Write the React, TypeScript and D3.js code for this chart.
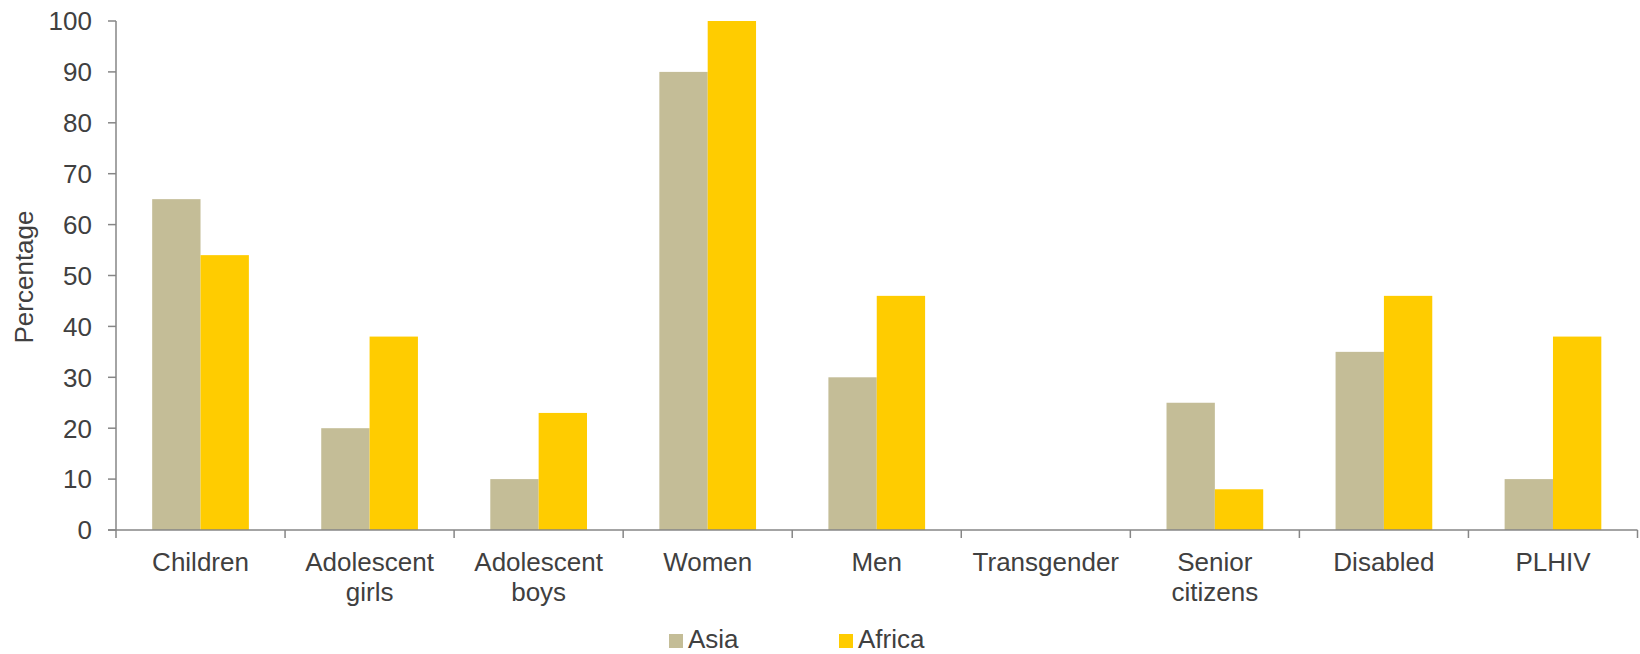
import React from "react";
import * as d3 from "d3";

const categories: string[][] = [
  ["Children"],
  ["Adolescent", "girls"],
  ["Adolescent", "boys"],
  ["Women"],
  ["Men"],
  ["Transgender"],
  ["Senior", "citizens"],
  ["Disabled"],
  ["PLHIV"],
];
const seriesNames = ["Asia", "Africa"];
const asiaValues = [65, 20, 10, 90, 30, 0, 25, 35, 10];
const africaValues = [54, 38, 23, 100, 46, 0, 8, 46, 38];
const yTicks = [0, 10, 20, 30, 40, 50, 60, 70, 80, 90, 100];
const colors = ["#C4BD97", "#FFCC00"];

const W = 1640;
const H = 654;
const left = 116;
const right = 1637.5;
const top = 21;
const bottom = 530;
const FONT = "'Liberation Sans', Arial, sans-serif";
const TEXT = "#404040";
const AXIS = "#868686";

export default function App() {
  const keys = categories.map((c) => c.join(" "));
  const x = d3.scaleBand<string>().domain(keys).range([left, right]).paddingInner(0).paddingOuter(0);
  const y = d3.scaleLinear().domain([0, 100]).range([bottom, top]);
  const groupFrac = 0.572;
  const gw = x.bandwidth() * groupFrac;
  const inner = d3.scaleBand<string>().domain(seriesNames).range([0, gw]).padding(0);
  const series = [asiaValues, africaValues];

  return (
    <svg
      width={W}
      height={H}
      style={{ position: "absolute", left: 0, top: 0, background: "#fff" }}
      fontFamily={FONT}
    >
      <rect x={0} y={0} width={W} height={H} fill="#fff" />
      {/* bars */}
      {keys.map((k, i) => {
        const gx = (x(k) as number) + (x.bandwidth() - gw) / 2;
        return (
          <g key={k}>
            {series.map((vals, s) => (
              <rect
                key={s}
                x={gx + (inner(seriesNames[s]) as number)}
                y={y(vals[i])}
                width={inner.bandwidth()}
                height={bottom - y(vals[i])}
                fill={colors[s]}
              />
            ))}
          </g>
        );
      })}
      {/* y axis */}
      <line x1={left} x2={left} y1={top} y2={bottom} stroke={AXIS} strokeWidth={1.5} />
      {yTicks.map((t) => (
        <g key={t}>
          <line x1={left - 8} x2={left} y1={y(t)} y2={y(t)} stroke={AXIS} strokeWidth={1.5} />
          <text
            x={92}
            y={y(t)}
            dy={9.3}
            textAnchor="end"
            fontSize={26}
            fill={TEXT}
          >
            {t}
          </text>
        </g>
      ))}
      {/* x axis */}
      <line x1={left - 8} x2={right} y1={bottom} y2={bottom} stroke={AXIS} strokeWidth={1.5} />
      {keys.map((k) => (
        <line
          key={"t" + k}
          x1={x(k) as number}
          x2={x(k) as number}
          y1={bottom}
          y2={bottom + 8}
          stroke={AXIS}
          strokeWidth={1.5}
        />
      ))}
      <line x1={right} x2={right} y1={bottom} y2={bottom + 8} stroke={AXIS} strokeWidth={1.5} />
      {categories.map((lines, i) => {
        const cx = (x(keys[i]) as number) + x.bandwidth() / 2;
        return (
          <text key={"l" + i} x={cx} y={571} textAnchor="middle" fontSize={26} fill={TEXT}>
            {lines.map((ln, j) => (
              <tspan key={j} x={cx} dy={j === 0 ? 0 : 29.5}>
                {ln}
              </tspan>
            ))}
          </text>
        );
      })}
      {/* y label */}
      <text
        transform={`translate(33,277) rotate(-90)`}
        textAnchor="middle"
        fontSize={26}
        fill={TEXT}
      >
        Percentage
      </text>
      {/* legend */}
      {seriesNames.map((n, s) => {
        const lx = s === 0 ? 669 : 839;
        return (
          <g key={n}>
            <rect x={lx} y={634} width={14} height={14} fill={colors[s]} />
            <text x={lx + 19} y={648} fontSize={26} fill={TEXT}>
              {n}
            </text>
          </g>
        );
      })}
    </svg>
  );
}
